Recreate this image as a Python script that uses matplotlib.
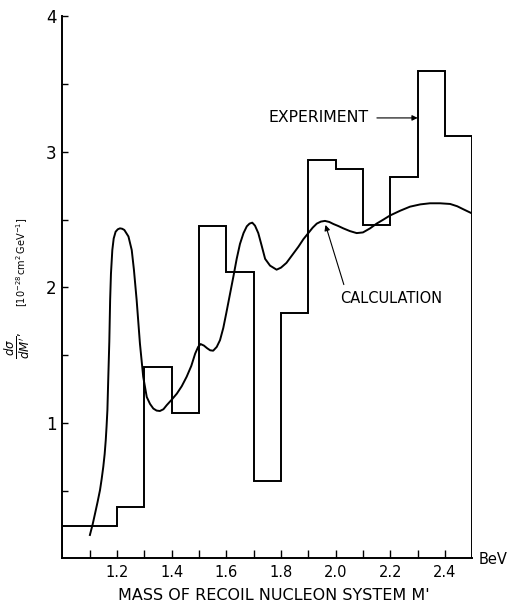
import matplotlib.pyplot as plt

# Experiment histogram (bins of 0.1 BeV)
bin_edges = [1.0, 1.2, 1.3, 1.4, 1.5, 1.6, 1.7, 1.8, 1.9, 2.0, 2.1, 2.2, 2.3, 2.4, 2.5]
exp_vals = [0.24, 0.38, 1.41, 1.075, 2.455, 2.115, 0.573, 1.81, 2.94, 2.874, 2.46, 2.816, 3.596, 3.117]

# Calculation curve
calc_x = [1.101, 1.111, 1.120, 1.129, 1.138, 1.144, 1.150, 1.155, 1.159, 1.162,
          1.165, 1.168, 1.172, 1.175, 1.178, 1.183,
          1.188, 1.195, 1.203, 1.211, 1.219, 1.227, 1.242, 1.254, 1.262, 1.272,
          1.284, 1.296, 1.309, 1.321, 1.333, 1.345, 1.357, 1.370, 1.382, 1.400,
          1.419, 1.437, 1.455, 1.472, 1.486, 1.497, 1.506, 1.518, 1.530, 1.541,
          1.552, 1.565, 1.577, 1.589, 1.600, 1.613, 1.626, 1.638, 1.650, 1.663,
          1.675, 1.685, 1.695, 1.705, 1.717, 1.729, 1.742, 1.760, 1.784, 1.800,
          1.820, 1.842, 1.864, 1.882, 1.900, 1.916, 1.931, 1.946, 1.961, 1.977,
          1.992, 2.010, 2.028, 2.052, 2.077, 2.100, 2.126, 2.150, 2.175, 2.199,
          2.236, 2.272, 2.310, 2.345, 2.382, 2.419, 2.445, 2.467, 2.494]
calc_y = [0.172, 0.250, 0.332, 0.415, 0.504, 0.585, 0.676, 0.770, 0.873, 0.975,
          1.094, 1.316, 1.600, 1.906, 2.100, 2.275,
          2.360, 2.410, 2.428, 2.435, 2.432, 2.423, 2.375, 2.275, 2.130, 1.906,
          1.585, 1.340, 1.190, 1.139, 1.105, 1.090, 1.087, 1.100, 1.130, 1.170,
          1.215, 1.270, 1.340, 1.420, 1.510, 1.560, 1.581, 1.570, 1.550, 1.535,
          1.532, 1.560, 1.610, 1.700, 1.810, 1.945, 2.080, 2.210, 2.320, 2.400,
          2.450, 2.470, 2.477, 2.455, 2.400, 2.310, 2.210, 2.160, 2.130, 2.145,
          2.180, 2.240, 2.300, 2.355, 2.400, 2.440, 2.470, 2.485, 2.490, 2.482,
          2.467, 2.452, 2.435, 2.415, 2.400, 2.405, 2.435, 2.470, 2.500, 2.530,
          2.565, 2.595, 2.612, 2.620, 2.620, 2.615, 2.598, 2.576, 2.550]

x_ticks = [1.1, 1.2, 1.3, 1.4, 1.5, 1.6, 1.7, 1.8, 1.9, 2.0, 2.1, 2.2, 2.3, 2.4]
x_labels = ['', '1.2', '', '1.4', '', '1.6', '', '1.8', '', '2.0', '', '2.2', '', '2.4']
y_ticks = [0.5, 1, 1.5, 2, 2.5, 3, 3.5, 4]
y_labels = ['', '1', '', '2', '', '3', '', '4']

plt.rcParams['font.family'] = ['DejaVu Sans']

fig = plt.figure(figsize=(5.09, 6.04), dpi=100)
ax = fig.add_axes([0.1224, 0.0757, 0.8055, 0.8973])

lw = 1.4
ax.stairs(exp_vals, bin_edges, baseline=0, fill=False, color='black', linewidth=lw)
ax.plot(calc_x, calc_y, color='black', linewidth=lw, solid_joinstyle='round')

ax.set_xlim(1.0, 2.5)
ax.set_ylim(0, 4)
ax.spines['top'].set_visible(False)
ax.spines['right'].set_visible(False)
ax.spines['left'].set_linewidth(lw)
ax.spines['bottom'].set_linewidth(lw)

ax.set_xticks(x_ticks)
ax.set_xticklabels(x_labels, fontsize=10.5)
ax.set_yticks(y_ticks)
ax.set_yticklabels(y_labels, fontsize=12)
ax.tick_params(axis='x', direction='in', length=6, width=1.0, pad=5)
ax.tick_params(axis='y', direction='in', length=4, width=1.0, pad=4)

# annotations
arrow = dict(arrowstyle='-|>', color='black', lw=0.8, shrinkA=0, shrinkB=0,
             mutation_scale=8)
ax.text(1.756, 3.25, 'EXPERIMENT', fontsize=11.3, va='center', ha='left')
ax.annotate('', xy=(2.3, 3.25), xytext=(2.151, 3.25), arrowprops=arrow)
ax.annotate('', xy=(1.963, 2.46), xytext=(2.03, 2.02), arrowprops=arrow)
ax.text(2.016, 1.92, 'CALCULATION', fontsize=10.5, va='center', ha='left')

fig.text(0.998, 0.073, 'BeV', fontsize=10.5, ha='right', va='center')
fig.text(0.537, 0.014, "MASS OF RECOIL NUCLEON SYSTEM M'", fontsize=11.5,
         ha='center', va='center')
# y label in two pieces: fraction and units
fig.text(0.036, 0.428, r"$\dfrac{d\sigma}{dM'}$,", fontsize=8.5,
         rotation=90, ha='center', va='center')
fig.text(0.043, 0.566,
         r"$[10^{-28}\,\mathrm{cm}^2\,\mathrm{GeV}^{-1}]$",
         fontsize=7, rotation=90, ha='center', va='center')

fig.savefig('out.png', dpi=100)
